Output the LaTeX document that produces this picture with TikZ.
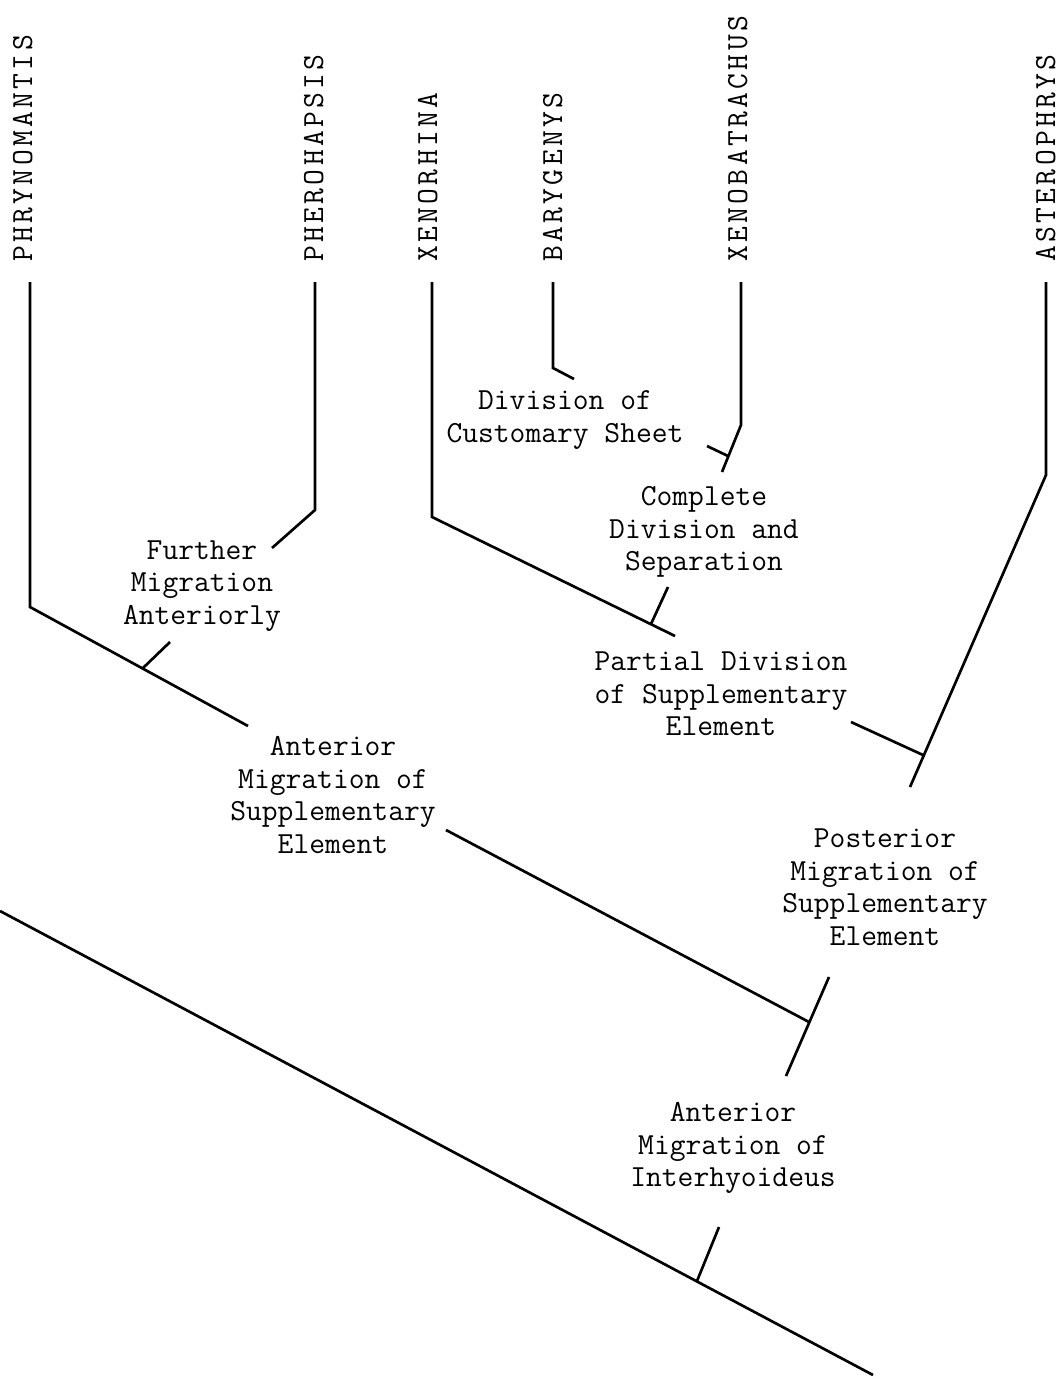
\documentclass[tikz,border=0pt]{standalone}
\usepackage{fontspec}
\setmonofont{Latin Modern Mono}

\begin{document}
\begin{tikzpicture}[x=0.75pt, y=-0.75pt, line width=2pt,
    taxon/.style={rotate=90, anchor=base west, inner sep=0pt,
      font=\ttfamily\fontsize{23}{24}\selectfont\addfontfeature{LetterSpace=11}},
    change/.style={align=center, inner sep=0pt,
      font=\ttfamily\fontsize{23}{24.4}\selectfont}]
      \fill[white] (0,0) rectangle (1061,1381);
      \useasboundingbox (0,0) rectangle (1061,1381);

      % taxa
      \node[taxon] (phr) at (32,263) {PHRYNOMANTIS};
      \node[taxon] (phe) at (323,263) {PHEROHAPSIS};
      \node[taxon] (xen) at (437,263) {XENORHINA};
      \node[taxon] (bar) at (562,263) {BARYGENYS};
      \node[taxon] (xbt) at (747,263) {XENOBATRACHUS};
      \node[taxon] (ast) at (1055,263) {ASTEROPHRYS};

      % characters
      \node[change] (div) at (565,420) {Division of\\Customary Sheet};
      \node[change] (sep) at (704,532) {Complete\\Division and\\Separation};
      \node[change] (fur) at (202,586) {Further\\Migration\\Anteriorly};
      \node[change] (part) at (721,694) {Partial Division\\of Supplementary\\Element};
      \node[change] (ant) at (333,795) {Anterior\\Migration of\\Supplementary\\Element};
      \node[change] (post) at (885,887) {Posterior\\Migration of\\Supplementary\\Element};
      \node[change] (ihy) at (733,1148) {Anterior\\Migration of\\Interhyoideus};

      % branch points
      \coordinate (phr-top) at (30,282);
      \coordinate (phr-bend) at (30,607);
      \coordinate (phr-tick) at (143,668);
      \coordinate (phr-end) at (248,726);
      \coordinate (phr-in) at (446,830);
      \coordinate (phr-join) at (809,1022);
      \coordinate (phe-top) at (315,282);
      \coordinate (phe-bend) at (315,510);
      \coordinate (phe-end) at (272,548);
      \coordinate (phe-in) at (170,642);
      \coordinate (xen-top) at (432,282);
      \coordinate (xen-bend) at (432,517);
      \coordinate (xen-tick) at (651,624);
      \coordinate (xen-end) at (675,636);
      \coordinate (xen-in) at (851,722);
      \coordinate (bar-top) at (553,282);
      \coordinate (bar-bend) at (553,368);
      \coordinate (bar-end) at (574,379);
      \coordinate (bar-in) at (707,446);
      \coordinate (xbt-top) at (741,282);
      \coordinate (xbt-bend) at (741,425);
      \coordinate (xbt-tick) at (728,456);
      \coordinate (xbt-end) at (722,472);
      \coordinate (xbt-in) at (668,587);
      \coordinate (ast-top) at (1046,282);
      \coordinate (ast-bend) at (1046,475);
      \coordinate (ast-tick) at (923,755);
      \coordinate (ast-end) at (910,787);
      \coordinate (ast-in) at (829,977);
      \coordinate (ast-out) at (786,1076);
      \coordinate (root-in) at (719,1227);
      \coordinate (root-join) at (697,1281);
      \coordinate (root-start) at (0,911);
      \coordinate (root-end) at (873,1375);

      % tree
      \draw (phr-top) -- (phr-bend) -- (phr-end);
      \draw (phe-top) -- (phe-bend) -- (phe-end);
      \draw (phe-in) -- (phr-tick);
      \draw (xen-top) -- (xen-bend) -- (xen-end);
      \draw (bar-top) -- (bar-bend) -- (bar-end);
      \draw (xbt-top) -- (xbt-bend) -- (xbt-end);
      \draw (bar-in) -- (xbt-tick);
      \draw (xbt-in) -- (xen-tick);
      \draw (ast-top) -- (ast-bend) -- (ast-end);
      \draw (xen-in) -- (ast-tick);
      \draw (phr-in) -- (phr-join);
      \draw (ast-in) -- (ast-out);
      \draw (root-in) -- (root-join);
      \draw (root-start) -- (root-end);
    \end{tikzpicture}
\end{document}
